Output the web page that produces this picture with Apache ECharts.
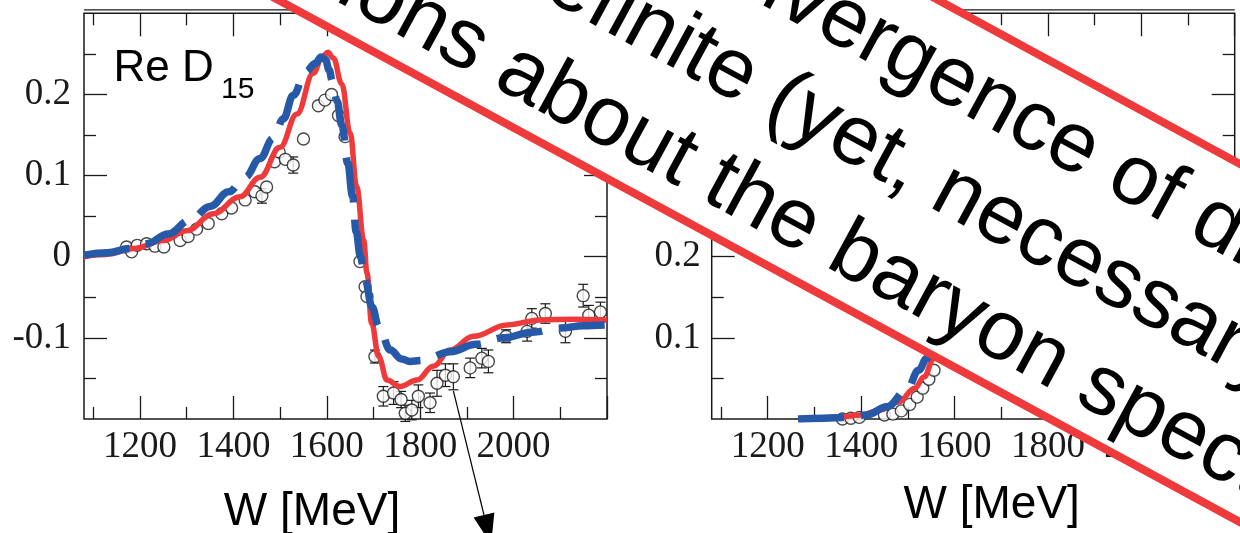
<!DOCTYPE html>
<html>
<head>
<meta charset="utf-8">
<script src="https://cdn.jsdelivr.net/npm/echarts@6/dist/echarts.min.js"></script>
<style>
  html, body { margin: 0; padding: 0; background: #fff; }
  #chart { width: 1240px; height: 533px; }
</style>
</head>
<body>
<div id="chart"></div>
<script>
// ---------- Re D15 panel: data points (W in MeV, value, error) ----------
const dataW_L   = [1171, 1182, 1194, 1214, 1232, 1251, 1286, 1303, 1321, 1346, 1375, 1396, 1425, 1446, 1461, 1471, 1488, 1498, 1511, 1528, 1550, 1582, 1596, 1610, 1625, 1639,
                   1671, 1682, 1686, 1703, 1721, 1743, 1759, 1768, 1782, 1796, 1821, 1836, 1854, 1871, 1907, 1932, 1946, 1984, 2029, 2039, 2068, 2111, 2149, 2161, 2186];
const dataV_L   = [0.012, 0.006, 0.014, 0.016, 0.013, 0.012, 0.020, 0.025, 0.034, 0.041, 0.053, 0.060, 0.070, 0.080, 0.075, 0.086, 0.117, 0.129, 0.120, 0.113, 0.145, 0.186, 0.193, 0.200, 0.174, 0.148,
                   -0.006, -0.037, -0.049, -0.123, -0.172, -0.168, -0.176, -0.193, -0.189, -0.172, -0.180, -0.156, -0.146, -0.148, -0.137, -0.125, -0.129, -0.098, -0.092, -0.076, -0.070, -0.092, -0.048, -0.072, -0.068];
const dataE_L   = [0, 0, 0, 0, 0, 0, 0, 0, 0, 0, 0, 0, 0, 0, 0.009, 0, 0, 0, 0, 0.010, 0, 0, 0, 0, 0, 0,
                   0, 0, 0, 0.008, 0.012, 0.014, 0.010, 0.010, 0.012, 0.014, 0.012, 0.016, 0.014, 0.016, 0.012, 0.012, 0.014, 0.008, 0.012, 0.012, 0.012, 0.014, 0.014, 0.012, 0.012];

// solid red model curve
const redW_L  = [1080, 1130, 1186, 1250, 1300, 1357, 1414, 1457, 1500, 1536, 1571, 1590, 1602, 1614, 1632, 1650, 1664, 1679, 1686, 1696, 1711, 1729, 1757, 1793, 1828, 1864, 1914, 1986, 2057, 2128, 2200];
const redV_L  = [0.000, 0.003, 0.010, 0.020, 0.032, 0.053, 0.074, 0.098, 0.135, 0.176, 0.226, 0.246, 0.252, 0.245, 0.213, 0.152, 0.086, 0.020, -0.020, -0.082, -0.123, -0.152, -0.160, -0.152, -0.135, -0.115, -0.098, -0.084, -0.078, -0.077, -0.078];
// dashed blue model curve
const blueW_L = [1080, 1130, 1179, 1214, 1260, 1307, 1350, 1390, 1425, 1457, 1485, 1507, 1528, 1555, 1575, 1588, 1597, 1605, 1612, 1622, 1632, 1645, 1655, 1663, 1672, 1682, 1697, 1711, 1736, 1760, 1778, 1800, 1814, 1864, 1920, 1978, 2040, 2100, 2150, 2200];
const blueV_L = [0.002, 0.005, 0.010, 0.016, 0.028, 0.045, 0.062, 0.080, 0.098, 0.121, 0.146, 0.170, 0.199, 0.228, 0.238, 0.246, 0.243, 0.230, 0.216, 0.192, 0.162, 0.115, 0.075, 0.030, 0.000, -0.029, -0.062, -0.086, -0.115, -0.126, -0.129, -0.128, -0.125, -0.117, -0.108, -0.100, -0.093, -0.088, -0.085, -0.084];

// ---------- second panel ----------
const dataW_R = [1305, 1322, 1340, 1360, 1378, 1396, 1450, 1468, 1486, 1504, 1520, 1532, 1545, 1556];
const dataV_R = [-0.002, -0.002, -0.002, 0.000, 0.001, 0.002, 0.005, 0.006, 0.010, 0.018, 0.027, 0.038, 0.049, 0.060];
const redW_R  = [1265, 1300, 1350, 1400, 1440, 1480, 1515, 1535, 1555, 1580];
const redV_R  = [0.000, 0.0005, 0.002, 0.005, 0.011, 0.021, 0.038, 0.052, 0.074, 0.105];
const blueW_R = [1265, 1320, 1369, 1412, 1455, 1498, 1523, 1541, 1560, 1580];
const blueV_R = [0.000, 0.001, 0.002, 0.005, 0.015, 0.036, 0.060, 0.075, 0.098, 0.125];

// ---------- ticks and labels ----------
const xRange      = [1080, 2200];
const xMajorTicks = [1200, 1400, 1600, 1800, 2000, 2200];
const xMinorTicks = [1100, 1300, 1500, 1700, 1900, 2100];
const xTickLabels = [1200, 1400, 1600, 1800, 2000];
const yRange_L      = [-0.2, 0.3];
const yMajorTicks_L = [-0.1, 0, 0.1, 0.2];
const yMinorTicks_L = [-0.15, -0.05, 0.05, 0.15, 0.25];
const yTickLabels_L = [-0.1, 0, 0.1, 0.2];
const yRange_R      = [0, 0.5];
const yMajorTicks_R = [0.1, 0.2, 0.3, 0.4];
const yMinorTicks_R = [0.05, 0.15, 0.25, 0.35, 0.45];
const yTickLabels_R = [0.1, 0.2, 0.3, 0.4];

const panelLabel = 'Re D';
const panelLabelSub = '15';
const axisTitle = 'W [MeV]';
const bannerLines = ['divergence of different', 'indefinite (yet, necessary)', 'conclusions about the baryon spectrum'];

// ---------- styling ----------
const RED = '#ee3a3a';
const BLUE = '#2659a8';
const INK = '#1a1a1a';
const SERIF = '"Liberation Serif", "Times New Roman", serif';
const SANS = '"Liberation Sans", Arial, sans-serif';

const G = [
  { left: 84,    top: 13.3, width: 523, height: 405.7 },
  { left: 711.7, top: 13.3, width: 523, height: 405.7 }
];

const zip2 = (a, b) => a.map((v, i) => [v, b[i]]);
const zip3 = (a, b, c) => a.map((v, i) => [v, b[i], c[i]]);
const fmtX = v => String(Math.round(v));
const fmtY = v => (Math.abs(v) < 1e-9 ? '0' : String(+v.toFixed(2)));

const tick = (vals, len) => ({ show: true, inside: true, length: len, customValues: vals,
  lineStyle: { color: INK, width: 1.3 } });
const noLine = { show: false, onZero: false };

function xAxes(gridIndex, name, nameGap, namePad) {
  const base = { gridIndex, type: 'value', min: xRange[0], max: xRange[1],
    axisLine: noLine, splitLine: { show: false } };
  return [
    Object.assign({}, base, { position: 'bottom', axisTick: tick(xMajorTicks, 23),
      axisLabel: { show: true, customValues: xTickLabels, formatter: fmtX, margin: 10, fontFamily: SERIF, fontSize: 37, color: INK },
      name, nameLocation: 'middle', nameGap,
      nameTextStyle: { fontFamily: SANS, fontSize: 46, color: '#000', padding: namePad } }),
    Object.assign({}, base, { position: 'bottom', axisTick: tick(xMinorTicks, 12), axisLabel: { show: false } }),
    Object.assign({}, base, { position: 'top', axisTick: tick(xMajorTicks, 23), axisLabel: { show: false } }),
    Object.assign({}, base, { position: 'top', axisTick: tick(xMinorTicks, 12), axisLabel: { show: false } })
  ];
}

function yAxes(gridIndex, range, major, minor, labels, margin) {
  const base = { gridIndex, type: 'value', min: range[0], max: range[1],
    axisLine: noLine, splitLine: { show: false } };
  return [
    Object.assign({}, base, { position: 'left', axisTick: tick(major, 23),
      axisLabel: { show: true, customValues: labels, margin, formatter: fmtY, fontFamily: SERIF, fontSize: 37, color: INK } }),
    Object.assign({}, base, { position: 'left', axisTick: tick(minor, 12), axisLabel: { show: false } }),
    Object.assign({}, base, { position: 'right', axisTick: tick(major, 23), axisLabel: { show: false } }),
    Object.assign({}, base, { position: 'right', axisTick: tick(minor, 12), axisLabel: { show: false } })
  ];
}

function errorBars(axisIdx, data) {
  return {
    type: 'custom', xAxisIndex: axisIdx, yAxisIndex: axisIdx, z: 2,
    data: data.filter(d => d[2] > 0),
    renderItem(params, api) {
      const x = api.value(0), y = api.value(1), e = api.value(2);
      const hi = api.coord([x, y + e]), lo = api.coord([x, y - e]);
      const hw = 5, st = { stroke: INK, lineWidth: 1.2 };
      return { type: 'group', children: [
        { type: 'line', shape: { x1: hi[0], y1: hi[1], x2: lo[0], y2: lo[1] }, style: st },
        { type: 'line', shape: { x1: hi[0] - hw, y1: hi[1], x2: hi[0] + hw, y2: hi[1] }, style: st },
        { type: 'line', shape: { x1: lo[0] - hw, y1: lo[1], x2: lo[0] + hw, y2: lo[1] }, style: st }
      ] };
    }
  };
}

function points(axisIdx, data) {
  return { type: 'scatter', xAxisIndex: axisIdx, yAxisIndex: axisIdx, z: 3, data,
    symbol: 'circle', symbolSize: 12,
    itemStyle: { color: '#fff', borderColor: INK, borderWidth: 1.4 } };
}

function curve(axisIdx, data, color, width, dashed, z) {
  return { type: 'line', xAxisIndex: axisIdx, yAxisIndex: axisIdx, z, data,
    showSymbol: false, smooth: 0.4, smoothMonotone: 'x',
    lineStyle: { color, width, type: dashed ? [46, 17] : 'solid', cap: 'butt', join: 'round' } };
}

const chart = echarts.init(document.getElementById('chart'), null, { renderer: 'canvas' });

// banner across the figure, drawn in a rotated frame (u along, v across)
const theta = 28.5 * Math.PI / 180;
const TOP_Z = 100;
const bannerText = (s, u, v) => ({ type: 'text', z: TOP_Z, x: u, y: v,
  style: { text: s, font: '85px ' + SANS, fill: '#000', align: 'left', verticalAlign: 'middle', textAlign: 'left', textVerticalAlign: 'middle' } });
const banner = {
  type: 'group', x: 0, y: 0, rotation: -theta, z: TOP_Z, silent: true,
  children: [
    { type: 'rect', z: TOP_Z, shape: { x: -700, y: -447.6, width: 3000, height: 314.8 },
      style: { fill: '#fff', stroke: RED, lineWidth: 8 } },
    bannerText(bannerLines[0], 620.6, -383),
    bannerText(bannerLines[1], 360.4, -285),
    bannerText(bannerLines[2], 5, -183)
  ]
};

// thin second rule just above each panel's top edge
const topRules = G.map(g => ({
  type: 'line', z: 10, silent: true,
  shape: { x1: g.left, y1: g.top - 3.5, x2: g.left + g.width, y2: g.top - 3.5 },
  style: { stroke: INK, lineWidth: 1.2 }
}));

const panelText = [
  { type: 'text', z: 10, x: G[0].left + 29.5, y: G[0].top + 55.2,
    style: { text: panelLabel, font: '44px ' + SANS, fill: '#000', align: 'left', verticalAlign: 'middle', textAlign: 'left', textVerticalAlign: 'middle' } },
  { type: 'text', z: 10, x: G[0].left + 137, y: G[0].top + 76.7,
    style: { text: panelLabelSub, font: '30px ' + SANS, fill: '#000', align: 'left', verticalAlign: 'middle', textAlign: 'left', textVerticalAlign: 'middle' } }
];

chart.setOption({
  animation: false,
  backgroundColor: '#fff',
  grid: G.map(g => Object.assign({ show: true, borderColor: INK, borderWidth: 1.5, backgroundColor: 'transparent',
    containLabel: false, outerBoundsMode: 'none' }, g)),
  xAxis: [].concat(xAxes(0, axisTitle, 70, [0, 67, 0, 0]), xAxes(1, axisTitle, 63, [0, 0, 0, 37])),
  yAxis: [].concat(
    yAxes(0, yRange_L, yMajorTicks_L, yMinorTicks_L, yTickLabels_L, 13),
    yAxes(1, yRange_R, yMajorTicks_R, yMinorTicks_R, yTickLabels_R, 11)
  ),
  series: [
    points(0, zip2(dataW_L, dataV_L)),
    errorBars(0, zip3(dataW_L, dataV_L, dataE_L)),
    curve(0, zip2(redW_L, redV_L), RED, 5.5, false, 4),
    curve(0, zip2(blueW_L, blueV_L), BLUE, 7.5, true, 5),
    points(4, zip2(dataW_R, dataV_R)),
    curve(4, zip2(redW_R, redV_R), RED, 5.5, false, 4),
    curve(4, zip2(blueW_R, blueV_R), BLUE, 7.5, true, 5)
  ]
});

// annotation arrow leaving the lower end of the 1871 MeV error bar
const iArrow = dataW_L.indexOf(1871);
const start = chart.convertToPixel({ gridIndex: 0 }, [dataW_L[iArrow], dataV_L[iArrow] - dataE_L[iArrow]]);
const end = [484, 515];
const dx = end[0] - start[0], dy = end[1] - start[1];
const L = Math.hypot(dx, dy), ux = dx / L, uy = dy / L;
const headLen = 30, headHalf = 10.7;
const arrow = {
  type: 'group', z: 50, silent: true, children: [
    { type: 'line', z: 50, shape: { x1: start[0], y1: start[1] + 1, x2: end[0], y2: end[1] }, style: { stroke: '#000', lineWidth: 1.2 } },
    { type: 'polygon', z: 50, shape: { points: [
        [end[0] - uy * headHalf, end[1] + ux * headHalf],
        [end[0] + uy * headHalf, end[1] - ux * headHalf],
        [end[0] + ux * headLen, end[1] + uy * headLen]
      ] }, style: { fill: '#000' } }
  ]
};

chart.setOption({ graphic: [].concat(topRules, panelText, [arrow, banner]) });
</script>
</body>
</html>
